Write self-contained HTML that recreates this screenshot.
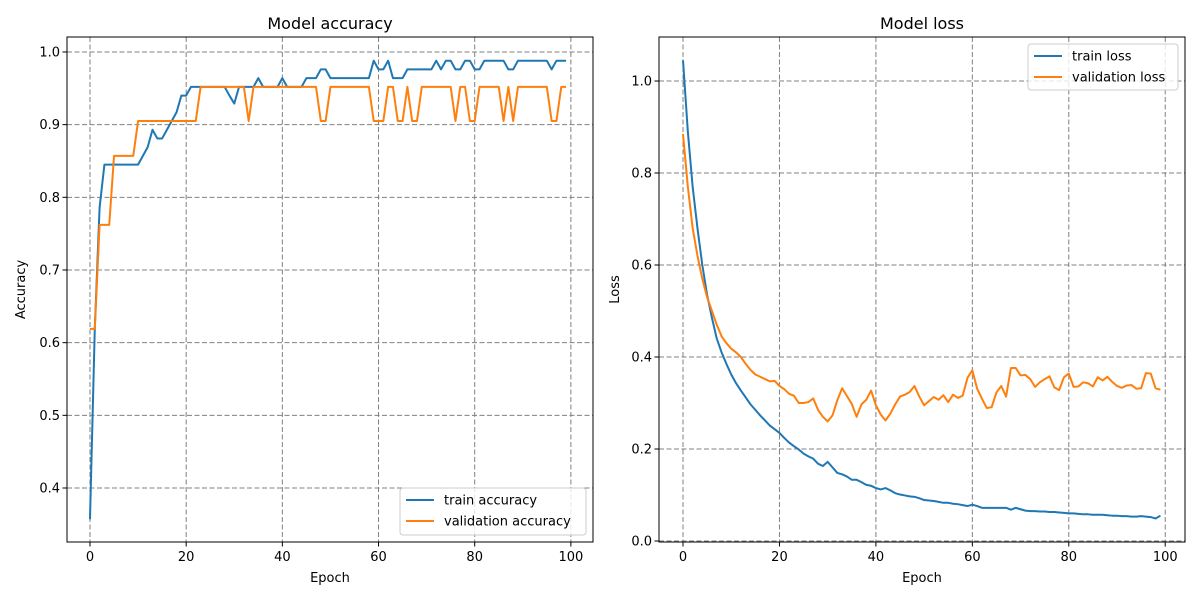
<!DOCTYPE html>
<html><head><meta charset="utf-8"><style>
body{margin:0;background:#fff;font-family:"Liberation Sans","DejaVu Sans",sans-serif}
svg text{font-family:"DejaVu Sans","Liberation Sans",sans-serif;fill:#000}
</style></head><body>
<svg id="chart" width="1200" height="600" xmlns="http://www.w3.org/2000/svg"></svg>
<script>
const epochs = Array.from({length:100},(_,i)=>i);
const trainAcc = [.357,.62,.786,.845,.845,.845,.845,.845,.845,.845,.845,.857,.869,.893,.881,.881,.893,.905,.917,.94,.94,.952,.952,.952,.952,.952,.952,.952,.952,.94,.929,.952,.952,.952,.952,.964,.952,.952,.952,.952,.964,.952,.952,.952,.952,.964,.964,.964,.976,.976,.964,.964,.964,.964,.964,.964,.964,.964,.964,.988,.976,.976,.988,.964,.964,.964,.976,.976,.976,.976,.976,.976,.988,.976,.988,.988,.976,.976,.988,.988,.976,.976,.988,.988,.988,.988,.988,.976,.976,.988,.988,.988,.988,.988,.988,.988,.976,.988,.988,.988];
const valAcc = [.619,.619,.762,.762,.762,.857,.857,.857,.857,.857,.905,.905,.905,.905,.905,.905,.905,.905,.905,.905,.905,.905,.905,.952,.952,.952,.952,.952,.952,.952,.952,.952,.952,.905,.952,.952,.952,.952,.952,.952,.952,.952,.952,.952,.952,.952,.952,.952,.905,.905,.952,.952,.952,.952,.952,.952,.952,.952,.952,.905,.905,.905,.952,.952,.905,.905,.952,.905,.905,.952,.952,.952,.952,.952,.952,.952,.905,.952,.952,.905,.905,.952,.952,.952,.952,.952,.905,.952,.905,.952,.952,.952,.952,.952,.952,.952,.905,.905,.952,.952];
const trainLoss = [1.045,.89,.77,.68,.60,.535,.485,.44,.41,.385,.362,.343,.327,.312,.297,.285,.273,.262,.251,.243,.235,.224,.214,.206,.199,.19,.184,.179,.168,.163,.172,.16,.148,.145,.14,.133,.133,.128,.122,.12,.115,.112,.115,.11,.104,.101,.099,.097,.096,.093,.089,.088,.087,.085,.083,.083,.081,.08,.078,.076,.079,.076,.072,.072,.072,.072,.072,.072,.068,.072,.069,.066,.065,.065,.064,.064,.063,.063,.062,.061,.06,.06,.059,.058,.058,.057,.057,.057,.056,.055,.055,.054,.054,.053,.053,.054,.053,.052,.049,.055];
const valLoss = [.885,.77,.68,.62,.57,.53,.50,.47,.445,.43,.418,.41,.40,.385,.372,.362,.357,.352,.347,.348,.337,.33,.32,.316,.30,.30,.302,.31,.285,.27,.26,.273,.306,.332,.315,.298,.27,.297,.307,.327,.295,.275,.262,.277,.297,.314,.318,.324,.337,.314,.295,.304,.313,.307,.317,.302,.318,.311,.316,.355,.371,.331,.309,.289,.291,.323,.337,.314,.376,.376,.36,.361,.352,.335,.345,.352,.358,.334,.328,.356,.364,.335,.336,.345,.343,.336,.356,.349,.357,.346,.337,.333,.338,.339,.331,.332,.365,.364,.332,.329];
const xTicks = [0,20,40,60,80,100];
const accTicks = [0.4,0.5,0.6,0.7,0.8,0.9,1.0];
const lossTicks = [0.0,0.2,0.4,0.6,0.8,1.0];

const svg = document.getElementById('chart');
const NS = 'http://www.w3.org/2000/svg';
function mk(tag, attrs, parent){const e=document.createElementNS(NS,tag);for(const k in attrs)e.setAttribute(k,attrs[k]);(parent||svg).appendChild(e);return e;}

function panel(cfg){
  const g = mk('g',{});
  
  
  const L=cfg.L,R=cfg.R,T=37,B=542;
  const sx=v=>L+(v-cfg.x0)/(cfg.x1-cfg.x0)*(R-L);
  const sy=v=>B-(v-cfg.y0)/(cfg.y1-cfg.y0)*(B-T);
  xTicks.forEach(t=>{
    const x=sx(t);
    const gl=mk('line',{x1:x,x2:x,y1:T,y2:B,stroke:'#808080','stroke-dasharray':'5,2.5','stroke-width':1},g);
    
    
    mk('line',{x1:x,x2:x,y1:B,y2:B+4.5,stroke:'#000','stroke-width':1},g);
    const tx=mk('text',{x:x,y:B+19,'font-size':13,'text-anchor':'middle'},g);tx.textContent=String(t);
    
    
  });
  cfg.yTicks.forEach(t=>{
    const y=sy(t);
    const gl=mk('line',{x1:L,x2:R,y1:y,y2:y,stroke:'#808080','stroke-dasharray':'5,2.5','stroke-width':1},g);
    
    
    mk('line',{x1:L-4.5,x2:L,y1:y,y2:y,stroke:'#000','stroke-width':1},g);
    const tx=mk('text',{x:L-7,y:y+4.5,'font-size':13,'text-anchor':'end'},g);tx.textContent=t.toFixed(1);
    
    
  });
  const colors=['#1f77b4','#ff7f0e'];
  cfg.series.forEach((s,i)=>{
    const d=epochs.map((e,j)=>(j?'L':'M')+sx(e).toFixed(2)+','+sy(s[j]).toFixed(2)).join('');
    const p=mk('path',{d:d,fill:'none',stroke:colors[i],'stroke-width':2,'stroke-linejoin':'round'},g);
    
    
  });
  mk('rect',{x:L,y:T,width:R-L,height:B-T,fill:'none',stroke:'#000','stroke-width':1},g);
  const ti=mk('text',{x:(L+R)/2,y:29,'font-size':16,'text-anchor':'middle'},g);ti.textContent=cfg.title;
  
  
  const xl=mk('text',{x:(L+R)/2,y:582,'font-size':13,'text-anchor':'middle'},g);xl.textContent='Epoch';
  
  
  const yl=mk('text',{x:0,y:0,'font-size':13,'text-anchor':'middle',transform:`translate(${cfg.ylx},${(T+B)/2}) rotate(-90)`},g);yl.textContent=cfg.ylabel;
  
  
  const lg=mk('g',{},g);
  
  
  const [lx,ly,lw,lh]=cfg.legend;
  mk('rect',{x:lx,y:ly,width:lw,height:lh,fill:'#fff','fill-opacity':0.8,stroke:'#ccc','stroke-width':1,rx:3},lg);
  cfg.labels.forEach((lab,i)=>{
    const yy=ly+12+i*21;
    mk('line',{x1:lx+6,x2:lx+34,y1:yy,y2:yy,stroke:colors[i],'stroke-width':2},lg);
    const t=mk('text',{x:lx+44,y:yy+4.5,'font-size':13},lg);t.textContent=lab;
    
    
  });
}
panel({name:'accuracy-chart',L:67,R:593,x0:-4.78,x1:104.6,y0:0.3257,y1:1.0206,yTicks:accTicks,series:[trainAcc,valAcc],labels:['train accuracy','validation accuracy'],title:'Model accuracy',ylabel:'Accuracy',ylx:25,legend:[400,488,186,47]});
panel({name:'loss-chart',L:659,R:1185,x0:-4.98,x1:104.1,y0:-0.0022,y1:1.0957,yTicks:lossTicks,series:[trainLoss,valLoss],labels:['train loss','validation loss'],title:'Model loss',ylabel:'Loss',ylx:619,legend:[1028,44,150,46]});
</script>
</body></html>
